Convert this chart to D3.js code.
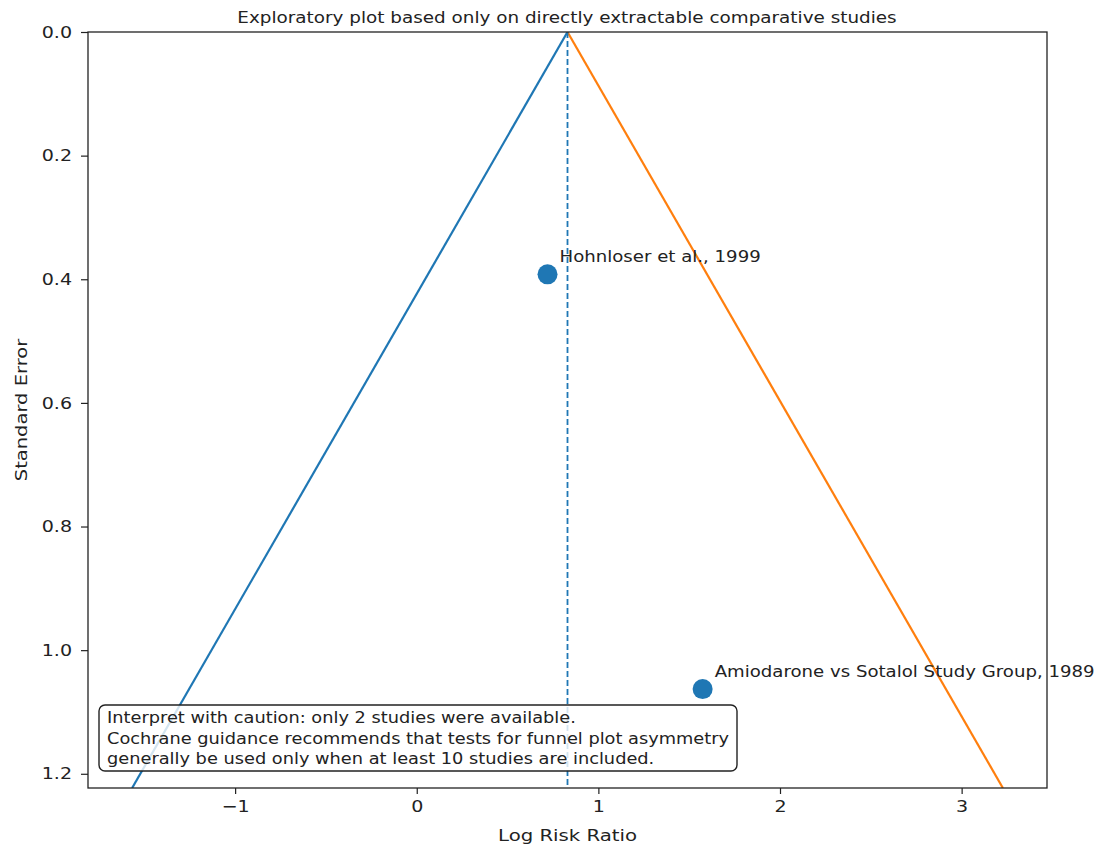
<!DOCTYPE html>
<html>
<head>
<meta charset="utf-8">
<script src="https://cdn.jsdelivr.net/npm/d3@7"></script>
<style>
  body { margin: 0; background: #fff; }
  text { font-family: "DejaVu Sans", sans-serif; fill: #222; }
</style>
</head>
<body>
<svg id="chart" width="1101" height="849"></svg>
<script>
// studies
var studies = ["Hohnloser et al., 1999", "Amiodarone vs Sotalol Study Group, 1989"];
var logRR = [0.72, 1.574];
var stdErr = [0.392, 1.063];
var pooled = 0.83;
var xTicks = [-1, 0, 1, 2, 3];
var yTicks = [0, 0.2, 0.4, 0.6, 0.8, 1.0, 1.2];
var noteLines = [
  "Interpret with caution: only 2 studies were available.",
  "Cochrane guidance recommends that tests for funnel plot asymmetry",
  "generally be used only when at least 10 studies are included."
];

var margin = {left: 88, right: 54, top: 32, bottom: 61};
var W = 1101, H = 849;
var SX = 1.19; // the reference text is a little wider than it is tall
var svg = d3.select('#chart');

// widen a text element in place (keeps its anchor point)
function stretch(sel, s){
  sel.each(function(){
    var t = d3.select(this);
    var tx = +t.attr('x') || 0, ty = +t.attr('y') || 0;
    var pre = t.attr('transform') || '';
    t.attr('x', 0).attr('y', 0)
      .attr('transform', pre + ' translate(' + tx + ',' + ty + ') scale(' + (s || SX) + ',1)');
  });
}

var x = d3.scaleLinear().domain([-1.81, 3.47]).range([margin.left, W - margin.right]);
var y = d3.scaleLinear().domain([0, 1.223]).range([margin.top, H - margin.bottom]);

svg.append('clipPath').attr('id', 'plotclip')
  .append('rect')
  .attr('x', margin.left).attr('y', margin.top)
  .attr('width', W - margin.left - margin.right)
  .attr('height', H - margin.top - margin.bottom);

var plot = svg.append('g').attr('clip-path', 'url(#plotclip)');

var seMax = y.domain()[1];
// funnel lines (95% limits)
plot.append('line')
  .attr('x1', x(pooled)).attr('y1', y(0))
  .attr('x2', x(pooled - 1.96 * seMax)).attr('y2', y(seMax))
  .attr('stroke', '#1f77b4').attr('stroke-width', 2.2);
plot.append('line')
  .attr('x1', x(pooled)).attr('y1', y(0))
  .attr('x2', x(pooled + 1.96 * seMax)).attr('y2', y(seMax))
  .attr('stroke', '#ff7f0e').attr('stroke-width', 2.2);

// pooled estimate
plot.append('line')
  .attr('x1', x(pooled)).attr('x2', x(pooled))
  .attr('y1', y(0)).attr('y2', y(seMax))
  .attr('stroke', '#1f77b4').attr('stroke-width', 1.8)
  .attr('stroke-dasharray', '6,3');

// study points
plot.selectAll('circle.pt').data(studies).enter()
  .append('circle').classed('pt', true)
  .attr('cx', function(d, i){ return x(logRR[i]); })
  .attr('cy', function(d, i){ return y(stdErr[i]); })
  .attr('r', 10)
  .attr('fill', '#1f77b4');

// axes
var xAxis = svg.append('g')
  .attr('transform', 'translate(0,' + (H - margin.bottom) + ')')
  .call(d3.axisBottom(x).tickValues(xTicks).tickSize(6).tickPadding(7)
    .tickFormat(function(d){ return d < 0 ? '\u2212' + Math.abs(d) : d; }));
var yAxis = svg.append('g')
  .attr('transform', 'translate(' + margin.left + ',0)')
  .call(d3.axisLeft(y).tickValues(yTicks).tickSize(7).tickPadding(9).tickFormat(d3.format('.1f')));

[xAxis, yAxis].forEach(function(a){
  a.select('.domain').remove();
  a.selectAll('.tick line').attr('stroke', '#222').attr('stroke-width', 1.2);
  a.selectAll('.tick text').attr('font-size', 16).attr('fill', '#222')
    .style('font-family', '"DejaVu Sans", sans-serif');
  stretch(a.selectAll('.tick text'));
});

// frame
svg.append('rect')
  .attr('x', margin.left).attr('y', margin.top)
  .attr('width', W - margin.left - margin.right)
  .attr('height', H - margin.top - margin.bottom)
  .attr('fill', 'none').attr('stroke', '#222').attr('stroke-width', 1.3);

// labels on top of frame
var lbl = svg.selectAll('text.lbl').data(studies).enter()
  .append('text').classed('lbl', true)
  .attr('x', function(d, i){ return x(logRR[i]) + 12; })
  .attr('y', function(d, i){ return y(stdErr[i]) - 12; })
  .attr('font-size', 15.5)
  .text(function(d){ return d; });
stretch(lbl, 1.17);

// note box
var box = svg.append('g');
box.append('rect')
  .attr('x', 99).attr('y', 705).attr('width', 638).attr('height', 66)
  .attr('rx', 6).attr('ry', 6)
  .attr('fill', '#fff').attr('fill-opacity', 0.8)
  .attr('stroke', '#222').attr('stroke-width', 1.4);
var note = box.selectAll('text').data(noteLines).enter()
  .append('text')
  .attr('x', 107)
  .attr('y', function(d, i){ return 723 + i * 20.5; })
  .attr('font-size', 15)
  .text(function(d){ return d; });
stretch(note, 1.185);

// axis titles
var xt = svg.append('text')
  .attr('x', (margin.left + W - margin.right) / 2).attr('y', 841)
  .attr('text-anchor', 'middle').attr('font-size', 16)
  .text('Log Risk Ratio');
stretch(xt, 1.23);
var yt = svg.append('text')
  .attr('transform', 'translate(27,' + ((margin.top + H - margin.bottom) / 2) + ') rotate(-90)')
  .attr('text-anchor', 'middle').attr('font-size', 16)
  .text('Standard Error');
stretch(yt, 1.22);

// subtitle
var sub = svg.append('text')
  .attr('x', 567).attr('y', 23)
  .attr('text-anchor', 'middle').attr('font-size', 15.5)
  .text('Exploratory plot based only on directly extractable comparative studies');
stretch(sub, 1.185);
</script>
</body>
</html>
